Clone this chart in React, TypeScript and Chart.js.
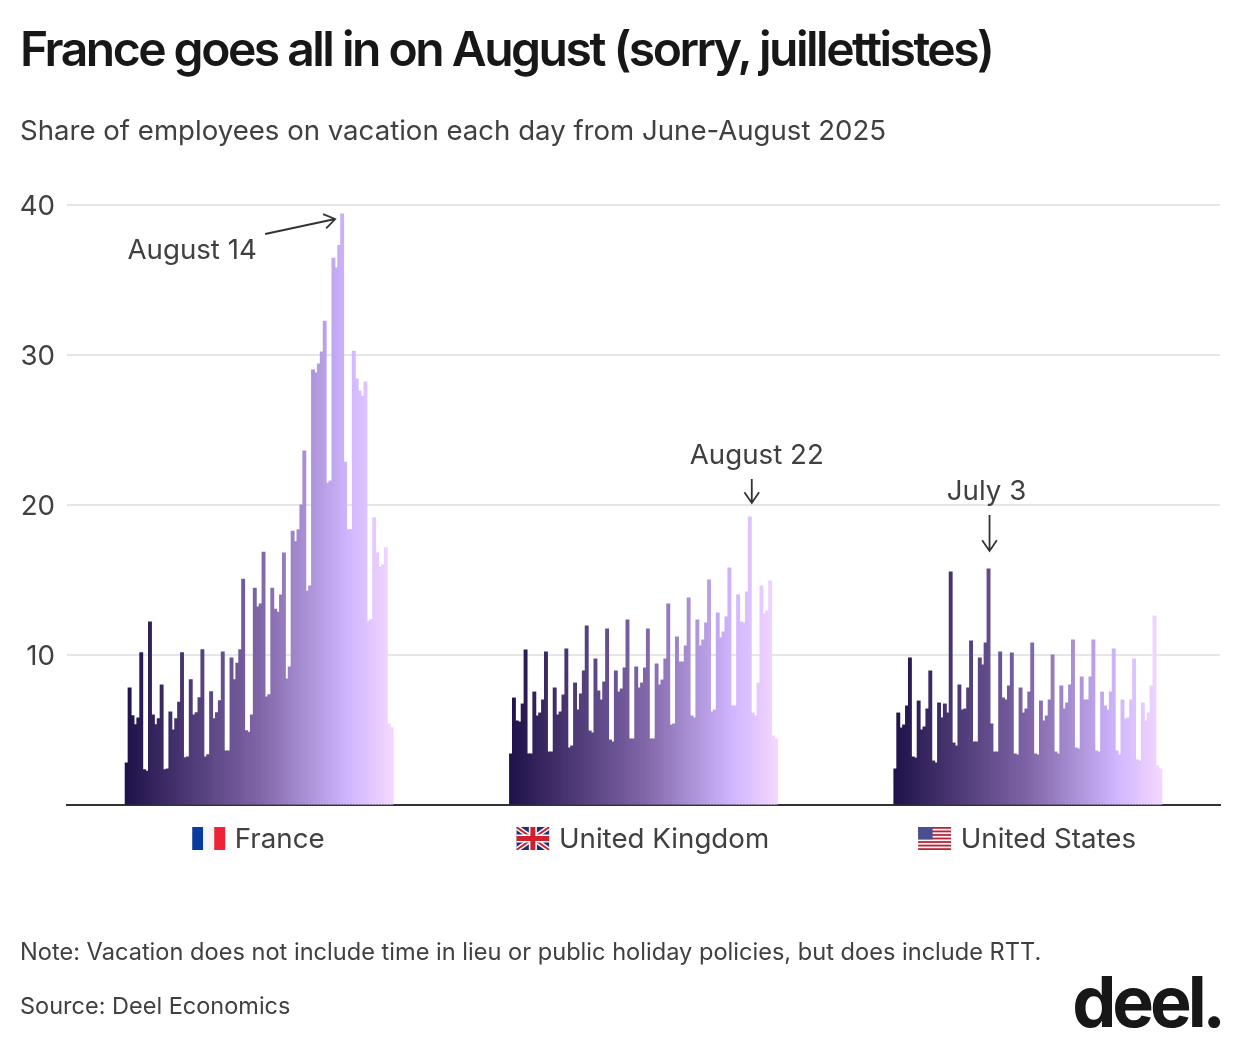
import { useEffect, useRef } from 'react';
import { Chart, registerables } from 'chart.js';

Chart.register(...registerables);

// share of employees on vacation, one value per day from June 1 to August 31
const france = [
  2.8, 7.8, 5.95, 5.35, 5.8, 10.15, 2.35, 2.25, 12.2, 6.0, 5.35, 5.75, 8.0, 2.35, 2.4, 6.2, 5.0, 5.75, 6.85, 10.15,
  3.15, 3.2, 8.35, 6.0, 6.15, 7.15, 10.35, 3.2, 3.35, 7.55, 5.75, 6.15, 6.95, 10.2, 3.6, 3.6, 9.8, 8.35, 9.45, 10.35,
  15.05, 4.95, 4.85, 6.0, 14.45, 13.2, 13.4, 16.85, 7.2, 7.35, 14.45, 13.05, 12.85, 14.0, 16.8, 8.4, 9.2, 18.25, 17.55, 18.35,
  20.0, 23.6, 14.25, 14.6, 29.0, 28.8, 29.4, 30.2, 32.25, 21.45, 21.6, 36.45, 35.8, 37.3, 39.4, 22.85, 18.35, 18.35, 30.25, 28.4,
  27.6, 27.25, 28.2, 12.25, 12.35, 19.15, 16.8, 15.85, 16.0, 17.15, 5.4, 5.15,
];
const unitedKingdom = [
  3.4, 7.13, 5.6, 5.53, 6.73, 10.33, 3.4, 3.4, 7.53, 5.93, 6.13, 7.0, 10.2, 3.53, 3.53, 7.8, 6.0, 6.2, 7.33, 10.4,
  3.8, 3.93, 8.13, 6.33, 7.4, 8.93, 11.93, 4.93, 4.8, 9.73, 7.6, 7.0, 8.2, 11.73, 4.33, 4.2, 8.93, 7.53, 7.73, 9.13,
  12.33, 4.4, 4.4, 9.2, 7.8, 8.13, 9.13, 11.73, 4.4, 4.4, 9.4, 8.0, 8.33, 9.73, 13.4, 5.33, 5.4, 11.2, 9.53, 9.53,
  10.6, 13.8, 5.93, 5.8, 12.33, 10.6, 11.0, 12.13, 15.0, 6.2, 6.33, 12.8, 11.13, 11.53, 12.53, 15.8, 6.6, 6.6, 14.0, 12.2,
  12.13, 14.2, 19.2, 6.13, 5.93, 8.13, 14.6, 12.73, 12.93, 14.93, 4.6, 4.4,
];
const unitedStates = [
  2.4, 6.13, 5.13, 5.33, 6.6, 9.8, 3.2, 3.13, 6.93, 5.0, 5.2, 6.4, 8.93, 2.93, 2.8, 6.8, 5.8, 6.73, 6.13, 15.53,
  4.13, 3.93, 8.0, 6.33, 6.4, 7.8, 10.93, 4.2, 4.2, 9.8, 9.33, 10.8, 15.73, 5.4, 3.53, 3.53, 10.2, 7.13, 7.0, 7.93,
  10.13, 3.4, 3.33, 7.8, 6.13, 6.4, 7.53, 10.8, 3.4, 3.33, 6.93, 5.6, 5.93, 7.0, 10.0, 3.53, 3.4, 7.93, 6.4, 6.8,
  8.0, 11.0, 3.8, 3.73, 8.53, 7.0, 7.0, 8.53, 11.0, 3.6, 3.53, 7.53, 6.6, 6.33, 7.53, 10.4, 3.6, 3.33, 7.0, 5.73,
  5.8, 7.0, 9.73, 3.0, 2.93, 6.8, 5.6, 6.13, 7.93, 12.6, 2.6, 2.4,
];

const countries = ['France', 'United Kingdom', 'United States'];
const yTicks = [10, 20, 30, 40];

// empty categories around and between the three groups
const EDGE_GAP = 20;
const GROUP_GAP = 40;
const DAYS = france.length;

const gradientStops: [number, number[]][] = [
  [0, [32, 18, 74]],
  [0.5, [127, 101, 166]],
  [0.84, [208, 182, 255]],
  [1, [243, 214, 255]],
];

const TEXT_COLOR = '#404040';
const FONT = 'Inter, sans-serif';
const LABEL_SIZE = 27.7;
const FLAG_SPACE = '\u2003\u2002\u200a';

const groupStart = (g: number) => EDGE_GAP + g * (DAYS + GROUP_GAP);
const groupMiddle = (g: number) => groupStart(g) + (DAYS - 1) / 2;

const emptyDays = (n: number) => new Array(n).fill(null);
const values = [
  ...emptyDays(EDGE_GAP),
  ...france,
  ...emptyDays(GROUP_GAP),
  ...unitedKingdom,
  ...emptyDays(GROUP_GAP),
  ...unitedStates,
  ...emptyDays(EDGE_GAP),
];

function colorAt(t: number) {
  for (let i = 1; i < gradientStops.length; i++) {
    const [t0, c0] = gradientStops[i - 1];
    const [t1, c1] = gradientStops[i];
    if (t <= t1) {
      const k = (t - t0) / (t1 - t0);
      const c = c0.map((v, j) => Math.round(v + (c1[j] - v) * k));
      return `rgb(${c[0]}, ${c[1]}, ${c[2]})`;
    }
  }
  return 'rgb(243, 214, 255)';
}

function barColor(index: number) {
  const pos = (index - EDGE_GAP) % (DAYS + GROUP_GAP);
  return colorAt(Math.max(0, pos) / (DAYS - 1));
}

function drawFrance(ctx: CanvasRenderingContext2D, x: number, y: number, w: number, h: number) {
  ctx.fillStyle = '#0a3a9c';
  ctx.fillRect(x, y, w / 3, h);
  ctx.fillStyle = '#f5f5f5';
  ctx.fillRect(x + w / 3, y, w / 3, h);
  ctx.fillStyle = '#ee2436';
  ctx.fillRect(x + (2 * w) / 3, y, w / 3, h);
}

function drawUk(ctx: CanvasRenderingContext2D, x: number, y: number, w: number, h: number) {
  ctx.save();
  ctx.beginPath();
  ctx.rect(x, y, w, h);
  ctx.clip();
  ctx.fillStyle = '#1d2f75';
  ctx.fillRect(x, y, w, h);
  const diagonal = (color: string, width: number) => {
    ctx.strokeStyle = color;
    ctx.lineWidth = width;
    ctx.beginPath();
    ctx.moveTo(x, y);
    ctx.lineTo(x + w, y + h);
    ctx.moveTo(x + w, y);
    ctx.lineTo(x, y + h);
    ctx.stroke();
  };
  diagonal('#ffffff', 5);
  diagonal('#d0202e', 2);
  ctx.fillStyle = '#ffffff';
  ctx.fillRect(x + w / 2 - 4, y, 8, h);
  ctx.fillRect(x, y + h / 2 - 4, w, 8);
  ctx.fillStyle = '#d0202e';
  ctx.fillRect(x + w / 2 - 2.5, y, 5, h);
  ctx.fillRect(x, y + h / 2 - 2.5, w, 5);
  ctx.restore();
}

function drawUs(ctx: CanvasRenderingContext2D, x: number, y: number, w: number, h: number) {
  const stripe = h / 13;
  ctx.fillStyle = '#f4f4f4';
  ctx.fillRect(x, y, w, h);
  ctx.fillStyle = '#b8233a';
  for (let i = 0; i < 13; i += 2) ctx.fillRect(x, y + i * stripe, w, stripe);
  ctx.fillStyle = '#4a4f8f';
  ctx.fillRect(x, y, w * 0.44, stripe * 7);
}

const flagDrawers = [drawFrance, drawUk, drawUs];

const flagsPlugin = {
  id: 'flags',
  afterDraw(chart: any) {
    const { ctx } = chart;
    const xScale = chart.scales.x;
    ctx.save();
    ctx.font = `${LABEL_SIZE}px ${FONT}`;
    countries.forEach((name, g) => {
      const width = ctx.measureText(FLAG_SPACE + name).width;
      const left = xScale.getPixelForValue(groupMiddle(g)) - width / 2;
      flagDrawers[g](ctx, left, 827, 33, 23);
    });
    ctx.restore();
  },
};

// label + arrow for the peak day of each group, placed relative to that bar
const callouts = [
  { text: 'August 14', group: 0, day: 74, textDx: -150, textY: 251, fromDx: -77, fromY: 234, toDx: -7, toY: 219 },
  { text: 'August 22', group: 1, day: 82, textDx: 7, textY: 456, fromDx: 2, fromY: 479, toDx: 2, toY: 503 },
  { text: 'July 3', group: 2, day: 32, textDx: -2, textY: 492, fromDx: 1, fromY: 515, toDx: 1, toY: 551 },
];

const calloutsPlugin = {
  id: 'callouts',
  afterDraw(chart: any) {
    const { ctx } = chart;
    const xScale = chart.scales.x;
    ctx.save();
    ctx.font = `${LABEL_SIZE}px ${FONT}`;
    ctx.fillStyle = TEXT_COLOR;
    ctx.strokeStyle = '#333333';
    ctx.lineWidth = 1.8;
    ctx.textAlign = 'center';
    ctx.textBaseline = 'middle';
    callouts.forEach((c) => {
      const barX = xScale.getPixelForValue(groupStart(c.group) + c.day);
      ctx.fillText(c.text, barX + c.textDx, c.textY);
      const x0 = barX + c.fromDx;
      const x1 = barX + c.toDx;
      const angle = Math.atan2(c.toY - c.fromY, x1 - x0);
      ctx.beginPath();
      ctx.moveTo(x0, c.fromY);
      ctx.lineTo(x1, c.toY);
      ctx.moveTo(x1 - 13 * Math.cos(angle - 0.6), c.toY - 13 * Math.sin(angle - 0.6));
      ctx.lineTo(x1, c.toY);
      ctx.lineTo(x1 - 13 * Math.cos(angle + 0.6), c.toY - 13 * Math.sin(angle + 0.6));
      ctx.stroke();
    });
    ctx.restore();
  },
};

function tickLabel(index: number) {
  for (let g = 0; g < countries.length; g++) {
    if (index === Math.floor(groupMiddle(g))) return FLAG_SPACE + countries[g];
  }
  return '';
}

export default function App() {
  const chartRef = useRef<HTMLCanvasElement>(null);

  useEffect(() => {
    if (!chartRef.current) return;

    const chart = new Chart(chartRef.current, {
      type: 'bar',
      data: {
        labels: values.map((_, i) => String(i)),
        datasets: [
          {
            data: values,
            backgroundColor: (ctx: any) => barColor(ctx.dataIndex),
            borderWidth: 0,
            inflateAmount: 0.5,
            categoryPercentage: 1,
            barPercentage: 1,
          },
        ],
      },
      options: {
        responsive: false,
        animation: false,
        layout: { padding: { top: 205, right: 20, bottom: 183, left: 0 } },
        plugins: {
          legend: { display: false },
          title: { display: false },
          tooltip: { enabled: false },
        },
        scales: {
          x: {
            afterFit: (scale: any) => {
              scale.height = 60;
            },
            grid: { display: false, drawTicks: false },
            border: { display: true, color: '#333333', width: 2 },
            ticks: {
              autoSkip: false,
              maxRotation: 0,
              padding: 18,
              color: TEXT_COLOR,
              font: { family: FONT, size: LABEL_SIZE },
              callback: (_: any, index: number) => tickLabel(index),
            },
          },
          y: {
            min: 0,
            max: 40,
            afterFit: (scale: any) => {
              scale.width = 67;
            },
            afterBuildTicks: (scale: any) => {
              scale.ticks = [0, ...yTicks].map((value) => ({ value }));
            },
            grid: {
              drawTicks: false,
              lineWidth: 2,
              color: (ctx: any) => (ctx.tick.value === 0 ? 'transparent' : '#e6e6e6'),
            },
            border: { display: false },
            ticks: {
              padding: 12,
              labelOffset: 1.5,
              color: TEXT_COLOR,
              font: { family: FONT, size: LABEL_SIZE },
              callback: (value: any) => (value === 0 ? '' : String(value)),
            },
          },
        },
      },
      plugins: [flagsPlugin, calloutsPlugin],
    } as any);

    return () => chart.destroy();
  }, []);

  const text = (top: number, size: number, extra: React.CSSProperties = {}) => ({
    position: 'absolute' as const,
    left: 20,
    top,
    fontFamily: FONT,
    fontSize: size,
    lineHeight: 1,
    color: TEXT_COLOR,
    whiteSpace: 'nowrap' as const,
    ...extra,
  });

  return (
    <div style={{ position: 'absolute', left: 0, top: 0, width: 1240, height: 1048, background: '#fff', overflow: 'hidden' }}>
      <canvas ref={chartRef} width={1240} height={1048} style={{ position: 'absolute', left: 0, top: 0 }} />
      <div style={text(25, 48, { fontWeight: 600, color: '#171717', letterSpacing: '-0.052em' })}>
        France goes all in on August (sorry, juillettistes)
      </div>
      <div style={text(117, 27.6)}>Share of employees on vacation each day from June-August 2025</div>
      <div style={text(940, 23.6)}>Note: Vacation does not include time in lieu or public holiday policies, but does include RTT.</div>
      <div style={text(994, 23.5)}>Source: Deel Economics</div>
      <div style={text(967, 70, { left: 'auto', right: 18, fontWeight: 700, color: '#171717', letterSpacing: '-4px' })}>deel.</div>
    </div>
  );
}
